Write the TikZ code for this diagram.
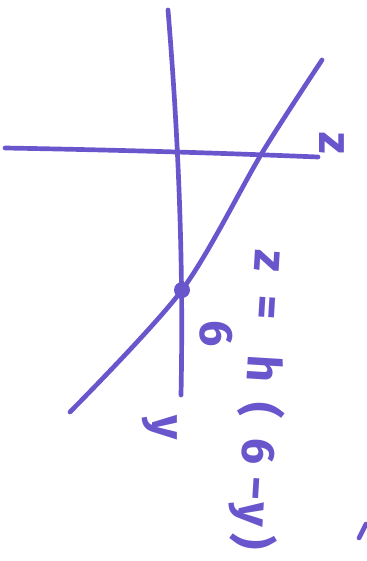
\documentclass[tikz,border=0pt]{standalone}
\usepackage{fontspec}
\setmainfont{Fira Sans}
\definecolor{marker}{RGB}{106,86,204}
\tikzset{
  penline/.style={marker, line width=4pt, line cap=round, line join=round},
  handtext/.style={marker, font=\fontsize{40}{40}\selectfont\bfseries, inner sep=0pt},
}
\begin{document}
\begin{tikzpicture}[x=0.03cm, y=-0.03cm]
\useasboundingbox (0,0) rectangle (367,561);

% Assi
\coordinate (zneg) at (5,148);
\coordinate (zpos) at (318,157);
\coordinate (ytop) at (168,10);
\coordinate (ybot) at (181,395);
\draw[penline] (zneg) .. controls (120,150) and (220,153) .. (zpos);
\draw[penline] (ytop) .. controls (177,120) and (184,250) .. (ybot);

% Retta
\coordinate (P) at (182,290);
\draw[penline] plot[smooth, tension=0.5] coordinates {
    (70,412) (P) (262,153) (322,60)};
\fill[marker] (P) circle (0.24cm);

% Etichette
\node[handtext, rotate=-90] (zlab) at (332,143) {z};
\node[handtext, rotate=-90] (ylab) at (160,428) {y};
\node[handtext, rotate=-90] (plab) at (216,334) {6};
\node[handtext, rotate=-93.5, anchor=west] (eq) at (270,250)
  {z\hspace{20pt}=\hspace{31pt}h\hspace{17pt}(\hspace{18pt}6\hspace{10pt}−\hspace{1pt}y\hspace{7pt})};

% segno sul bordo
\draw[penline] (359,538) -- (366,524);

\end{tikzpicture}
\end{document}
